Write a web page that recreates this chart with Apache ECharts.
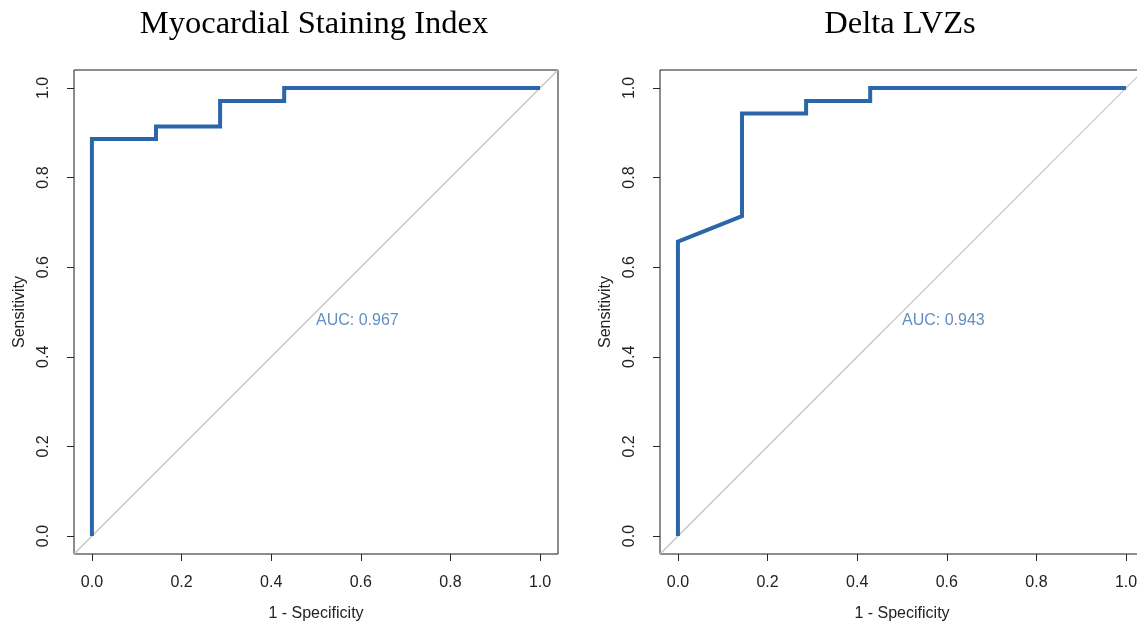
<!DOCTYPE html>
<html>
<head>
<meta charset="utf-8">
<script src="https://cdn.jsdelivr.net/npm/echarts@6/dist/echarts.min.js"></script>
<style>html,body{margin:0;padding:0;background:#fff}#c{width:1137px;height:622px}</style>
</head>
<body>
<div id="c"></div>
<script>
// ---- data ----
const titles = ['Myocardial Staining Index', 'Delta LVZs'];
const aucLabels = ['AUC: 0.967', 'AUC: 0.943'];
const tickValues = [0, 0.2, 0.4, 0.6, 0.8, 1.0];
const fprMSI = [0, 0, 0.143, 0.143, 0.286, 0.286, 0.429, 0.429, 1];
const sensMSI = [0, 0.886, 0.886, 0.914, 0.914, 0.971, 0.971, 1, 1];
const fprLVZ = [0, 0, 0.143, 0.143, 0.286, 0.286, 0.429, 0.429, 1];
const sensLVZ = [0, 0.657, 0.714, 0.943, 0.943, 0.971, 0.971, 1, 1];
const diagX = [-0.04, 1.04];
const diagY = [-0.04, 1.04];
const aucPos = [0.5, 0.5];

const curves = [[fprMSI, sensMSI], [fprLVZ, sensLVZ]];
const gridLefts = [74, 660];
const gridW = 484, gridH = 484, gridTop = 70;

const chart = echarts.init(document.getElementById('c'));
const sans = 'Liberation Sans, Arial, Helvetica, sans-serif';
const grids = [], xAxes = [], yAxes = [], series = [], graphics = [];
for (let i = 0; i < 2; i++) {
  grids.push({left: gridLefts[i], top: gridTop, width: gridW, height: gridH,
    outerBoundsMode: 'none',
    show: true, borderColor: '#1a1a1a', borderWidth: 1, backgroundColor: '#fff', containLabel: false});
  xAxes.push({gridIndex: i, type: 'value', min: -0.04, max: 1.04,
    name: '1 - Specificity', nameLocation: 'middle', nameGap: 52,
    nameTextStyle: {fontFamily: sans, fontSize: 16, color: '#222'},
    axisLine: {show: false, onZero: false}, splitLine: {show: false},
    axisTick: {show: true, inside: false, length: 7, lineStyle: {color: '#262626'}, customValues: tickValues},
    axisLabel: {fontFamily: sans, fontSize: 16, color: '#222', margin: 21,
      customValues: tickValues, formatter: v => v.toFixed(1)}});
  yAxes.push({gridIndex: i, type: 'value', min: -0.04, max: 1.04,
    name: 'Sensitivity', nameLocation: 'middle', nameGap: 46, nameRotate: 90,
    nameTextStyle: {fontFamily: sans, fontSize: 16, color: '#222'},
    axisLine: {show: false, onZero: false}, splitLine: {show: false},
    axisTick: {show: true, inside: false, length: 7, lineStyle: {color: '#262626'}, customValues: tickValues},
    axisLabel: {fontFamily: sans, fontSize: 16, color: '#222', margin: 22, rotate: 90,
      customValues: tickValues, formatter: v => v.toFixed(1)}});
  series.push({type: 'line', xAxisIndex: i, yAxisIndex: i, symbol: 'none', silent: true,
    data: diagX.map((x, k) => [x, diagY[k]]),
    lineStyle: {color: '#c2c2c2', width: 1.2}, clip: true, z: 2});
  series.push({type: 'line', xAxisIndex: i, yAxisIndex: i, symbol: 'none', silent: true,
    data: curves[i][0].map((x, k) => [x, curves[i][1][k]]),
    lineStyle: {color: '#2c66aa', width: 4, join: 'miter', cap: 'butt'}, z: 3});
  series.push({type: 'scatter', xAxisIndex: i, yAxisIndex: i, symbolSize: 0, silent: true,
    data: [aucPos],
    label: {show: true, position: [0, 1], align: 'left', verticalAlign: 'top',
      formatter: aucLabels[i], fontFamily: sans, fontSize: 16, color: '#3b70b3'}, z: 4});
  graphics.push({type: 'text', x: gridLefts[i] + gridW / 2 - 2, y: 8,
    style: {text: titles[i], fontFamily: 'Liberation Serif, Times New Roman, serif',
      fontSize: 32.5, fill: '#000', textAlign: 'center'}});
}
chart.setOption({animation: false, grid: grids, xAxis: xAxes, yAxis: yAxes, series: series,
  graphic: graphics});
</script>
</body>
</html>
